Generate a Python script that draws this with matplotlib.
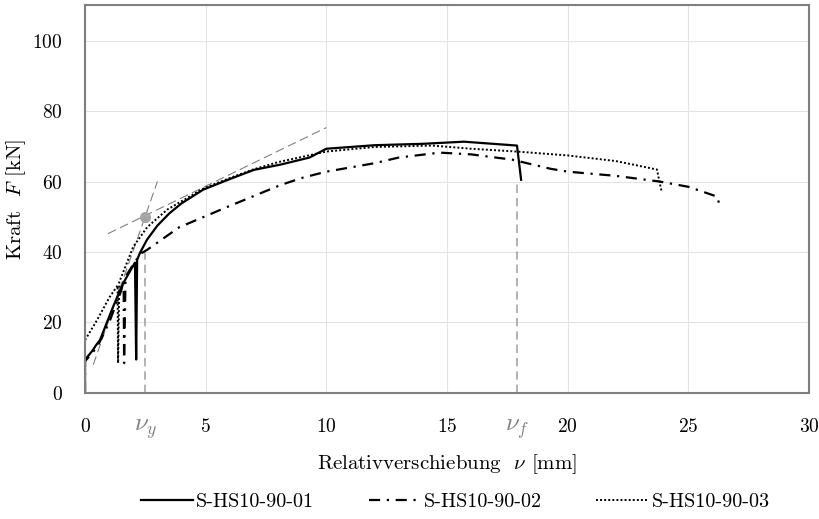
import matplotlib.pyplot as plt
import numpy as np

plt.rcParams['font.family'] = 'serif'
plt.rcParams['font.serif'] = ['cmr10']
plt.rcParams['mathtext.fontset'] = 'cm'
plt.rcParams['axes.formatter.use_mathtext'] = True

# S-HS10-90-01
v1 = [0, 0, 0.33, 0.45, 0.62, 1.16, 1.57, 2.07, 2.12, 2.16, 2.28, 2.57, 3.0, 3.5, 4.0, 4.9, 6,
      7, 8.1, 9.3, 10, 12, 14, 15.7, 17.9, 18.07]
f1 = [0, 9.4, 12.2, 13.5, 15, 24.4, 31, 37, 9.5, 37.8, 39.8, 43.5, 47.5, 51, 53.8, 57.7, 60.7,
      63.3, 64.8, 66.8, 69.3, 70.3, 70.7, 71.3, 70.2, 60.5]
# S-HS10-90-02
v2 = [0, 0, 0.5, 1.0, 1.5, 1.6, 1.62, 1.68, 2.0, 2.3, 2.57, 3.9, 5.9, 8.1, 9.03, 10, 11, 12,
      13, 14.7, 16, 17.7, 19.3, 20, 22, 23.8, 25, 26.2, 26.3]
f2 = [0, 9, 13, 20, 29, 32, 8.5, 33, 36.5, 39.5, 40.6, 47, 52.8, 59, 61.1, 62.8, 64, 65.2,
      66.8, 68.2, 67.7, 66.2, 63.6, 62.8, 61.6, 60, 58.5, 55.7, 53]
# S-HS10-90-03
v3 = [0, 0, 0.5, 1.0, 1.35, 1.37, 1.42, 2.0, 2.57, 3.4, 4.9, 6, 7, 8, 9, 10, 12, 14.4, 16,
      17.9, 20, 22, 23.7, 23.8, 23.9]
f3 = [0, 15, 20.7, 27, 30.5, 8.5, 31.5, 41.5, 47, 52, 58, 61, 63.5, 65.5, 67, 68.5, 69.8, 70.2,
      69.3, 68.5, 67.4, 65.8, 63.4, 60, 57]

fig = plt.figure(figsize=(8.19, 5.19), dpi=100)
ax = fig.add_axes([0.1038, 0.2428, 0.884, 0.747])

gray = '#a6a6a6'
# Hilfslinien
ax.plot([0.95, 10], [45.2, 75.3], color='#808080', lw=0.8, ls=(0, (8, 4)))
ax.plot([0.34, 3.0], [8, 60], color='#808080', lw=0.8, ls=(0, (8, 4)))
ax.plot([2.5, 2.5], [0, 41], color=gray, lw=1.2, ls=(0, (5, 3)))
ax.plot([17.9, 17.9], [0, 60.5], color=gray, lw=1.2, ls=(0, (5, 3)))
ax.plot([2.5], [50], 'o', color=gray, ms=7)

ax.plot(v1, f1, color='black', lw=1.6, label='S-HS10-90-01')
ax.plot(v2, f2, color='black', lw=1.6, ls=(0, (5, 3, 1, 3)), label='S-HS10-90-02')
ax.plot(v3, f3, color='black', lw=1.4, ls=(0, (1, 1.1)), label='S-HS10-90-03')

ax.set_xlim(0, 30)
ax.set_ylim(0, 110)
ax.set_xticks(np.arange(0, 31, 5))
ax.set_yticks(np.arange(0, 101, 20))
ax.grid(True, color='#e3e3e3', lw=0.8)
ax.set_axisbelow(True)
ax.tick_params(axis='x', length=0, pad=18, labelsize=14)
ax.tick_params(axis='y', length=0, pad=16, labelsize=14)
for s in ax.spines.values():
    s.set_color('#7f7f7f')
    s.set_linewidth(1.5)

ax.text(2.5, -10.6, r'$\nu_y$', color='#808080', fontsize=18, ha='center', va='baseline')
ax.text(17.9, -10.6, r'$\nu_f$', color='#808080', fontsize=18, ha='center', va='baseline')

ax.set_xlabel(r'Relativverschiebung  $\nu$ [mm]', fontsize=15, labelpad=12)
ax.set_ylabel(r'Kraft  $F$ [kN]', fontsize=15, labelpad=3)

fig.legend(loc='center', bbox_to_anchor=(0.556, 0.032), ncol=3, frameon=False,
           fontsize=14.5, columnspacing=2.7, handlelength=2.6, handletextpad=0.15)

fig.savefig('out.png', dpi=100)
